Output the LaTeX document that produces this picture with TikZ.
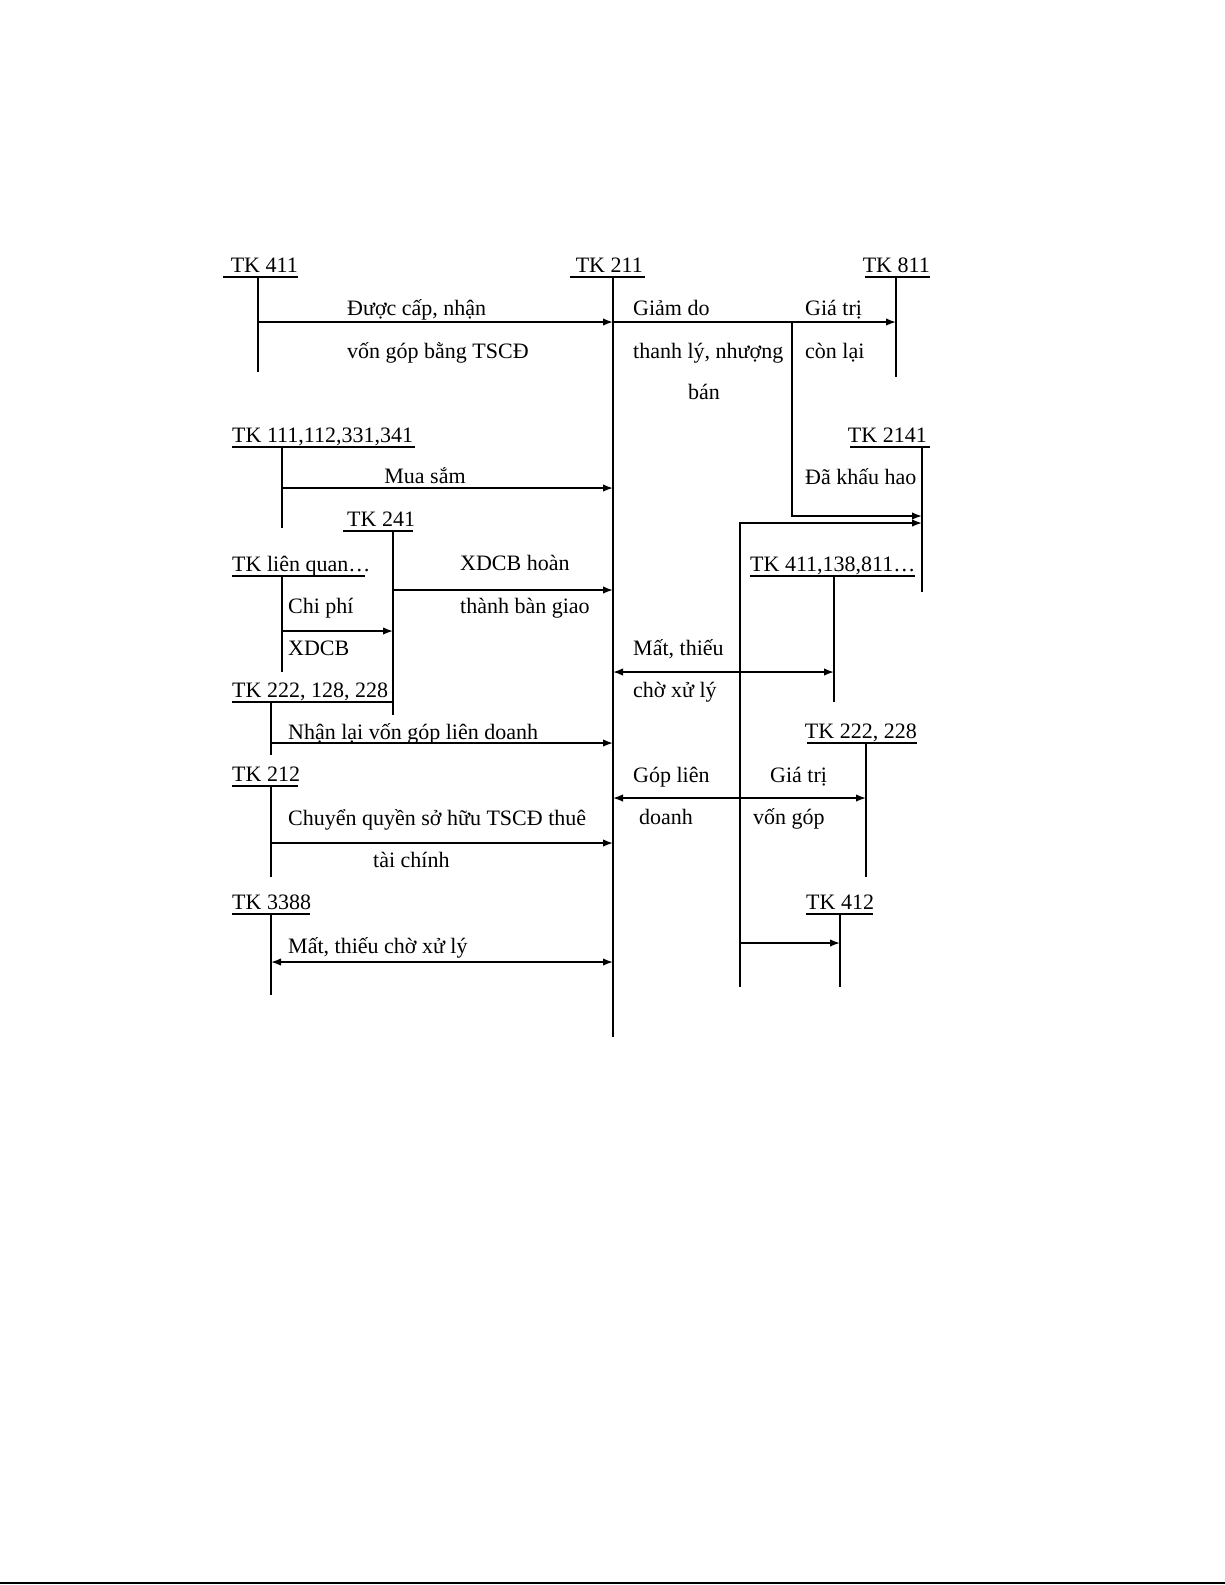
\documentclass[tikz,border=0pt]{standalone}
\usepackage{fontspec}
\setmainfont{Liberation Serif}
\usetikzlibrary{arrows.meta}
\tikzset{
  ln/.style={line width=1.6pt, black},
  arr/.style={ln, -{Latex[length=10pt,width=7.5pt]}},
  darr/.style={ln, {Latex[length=10pt,width=7.5pt]}-{Latex[length=10pt,width=7.5pt]}},
  lbl/.style={inner sep=0pt, text=black, font=\fontsize{22}{26}\selectfont},
}
% #1 name, #2 text, #3 text x, #4 anchor, #5 baseline, #6 ul x1, #7 ul x2, #8 vertical x, #9 bottom y
\newcommand\tkacct[9]{%
  \node[lbl, anchor=#4] (L#1) at (#3,#5) {#2};
  \coordinate (UL#1) at (#6,#5+5);
  \coordinate (UR#1) at (#7,#5+5);
  \coordinate (T#1) at (#8,#5+5);
  \coordinate (B#1) at (#8,#9);
  \draw[ln] (UL#1) -- (UR#1);
  \draw[ln] (T#1) -- (B#1);
}
\begin{document}
\begin{tikzpicture}[x=1pt,y=-1pt]
\useasboundingbox (0,0) rectangle (1225,1585);
\fill[white] (0,0) rectangle (1225,1585);
\coordinate (BL) at (0,1583);
\coordinate (BR) at (1225,1583);
\draw[line width=1.5pt] (BL) -- (BR);

% accounts
\tkacct{411}{TK 411}{298}{base east}{272}{223}{298}{258}{372}
\tkacct{211}{TK 211}{643}{base east}{272}{570}{645}{613}{1037}
\tkacct{811}{TK 811}{930}{base east}{272}{865}{930}{896}{377}
\tkacct{111}{TK 111,112,331,341}{232}{base west}{442}{232}{415}{282}{528}
\tkacct{2141}{TK 2141}{927}{base east}{442}{850}{930}{922}{592}
\tkacct{241}{TK 241}{347}{base west}{526}{343}{413}{393}{715}
\tkacct{lq}{TK liên quan…}{232}{base west}{571}{232}{365}{282}{672}
\tkacct{222a}{TK 222, 128, 228}{232}{base west}{697}{232}{393}{271}{755}
\tkacct{411b}{TK 411,138,811…}{750}{base west}{571}{750}{915}{834}{702}
\tkacct{222b}{TK 222, 228}{917}{base east}{738}{807}{917}{866}{877}
\tkacct{212}{TK 212}{232}{base west}{781}{232}{298}{271}{877}
\tkacct{3388}{TK 3388}{232}{base west}{909}{232}{310}{271}{995}
\tkacct{412}{TK 412}{806}{base west}{909}{806}{873}{840}{987}

% connector end points
\coordinate (a1s) at (258,322);  \coordinate (a1e) at (613,322);
\coordinate (a2e) at (896,322);
\coordinate (k1) at (792,322);   \coordinate (k2) at (792,516);  \coordinate (k3) at (922,516);
\coordinate (m1) at (740,987);   \coordinate (m2) at (740,523);  \coordinate (m3) at (922,523);
\coordinate (a3s) at (282,488);  \coordinate (a3e) at (613,488);
\coordinate (a4s) at (393,590);  \coordinate (a4e) at (613,590);
\coordinate (a5s) at (282,631);  \coordinate (a5e) at (393,631);
\coordinate (a6s) at (613,672);  \coordinate (a6e) at (834,672);
\coordinate (a7s) at (271,743);  \coordinate (a7e) at (613,743);
\coordinate (a8s) at (613,798);  \coordinate (a8e) at (866,798);
\coordinate (a9s) at (271,843);  \coordinate (a9e) at (613,843);
\coordinate (a10s) at (271,962); \coordinate (a10e) at (613,962);
\coordinate (a11s) at (740,943); \coordinate (a11e) at (840,943);

% connectors
\draw[arr] (a1s) -- (a1e);
\draw[arr] (a1e) -- (a2e);
\draw[arr] (k1) -- (k2) -- (k3);
\draw[arr] (m1) -- (m2) -- (m3);
\draw[arr] (a3s) -- (a3e);
\draw[arr] (a4s) -- (a4e);
\draw[arr] (a5s) -- (a5e);
\draw[darr] (a6s) -- (a6e);
\draw[arr] (a7s) -- (a7e);
\draw[darr] (a8s) -- (a8e);
\draw[arr] (a9s) -- (a9e);
\draw[darr] (a10s) -- (a10e);
\draw[arr] (a11s) -- (a11e);

% labels
\node[lbl, anchor=base west] (t1) at (347,315) {Được cấp, nhận};
\node[lbl, anchor=base west] (t2) at (347,358) {vốn góp bằng TSCĐ};
\node[lbl, anchor=base west] (t3) at (633,315) {Giảm do};
\node[lbl, anchor=base west] (t4) at (633,358) {thanh lý, nhượng};
\node[lbl, anchor=base] (t5) at (704,399) {bán};
\node[lbl, anchor=base west] (t6) at (805,315) {Giá trị};
\node[lbl, anchor=base west] (t7) at (805,358) {còn lại};
\node[lbl, anchor=base] (t8) at (425,483) {Mua sắm};
\node[lbl, anchor=base west] (t9) at (805,484) {Đã khấu hao};
\node[lbl, anchor=base west] (t10) at (460,570) {XDCB hoàn};
\node[lbl, anchor=base west] (t11) at (460,613) {thành bàn giao};
\node[lbl, anchor=base west] (t12) at (288,613) {Chi phí};
\node[lbl, anchor=base west] (t13) at (288,655) {XDCB};
\node[lbl, anchor=base west] (t14) at (633,655) {Mất, thiếu};
\node[lbl, anchor=base west] (t15) at (633,697) {chờ xử lý};
\node[lbl, anchor=base west] (t16) at (288,739) {Nhận lại vốn góp liên doanh};
\node[lbl, anchor=base west] (t17) at (633,782) {Góp liên};
\node[lbl, anchor=base west] (t18) at (639,824) {doanh};
\node[lbl, anchor=base west] (t19) at (770,782) {Giá trị};
\node[lbl, anchor=base west] (t20) at (753,824) {vốn góp};
\node[lbl, anchor=base west] (t21) at (288,825) {Chuyển quyền sở hữu TSCĐ thuê};
\node[lbl, anchor=base west] (t22) at (373,867) {tài chính};
\node[lbl, anchor=base west] (t23) at (288,953) {Mất, thiếu chờ xử lý};
\end{tikzpicture}
\end{document}
